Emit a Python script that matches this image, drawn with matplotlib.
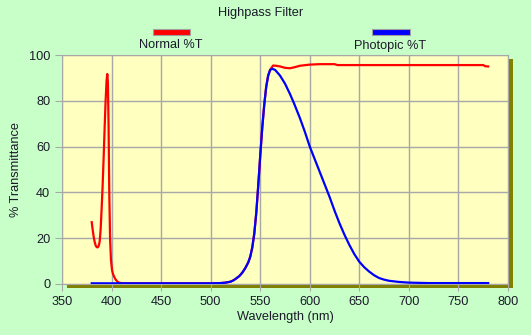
import matplotlib
matplotlib.use("Agg")
import matplotlib.pyplot as plt
from matplotlib.patches import Rectangle

plt.rcParams['font.family'] = ['Liberation Sans', 'DejaVu Sans']

# Normal %T (red)
normal_wl = [380, 381, 382, 383, 384, 385, 386, 387, 388, 389, 390, 391, 392, 393,
             394, 395, 395.7, 396.3, 397, 397.7, 398.5, 399.4, 400.5, 401.5, 402.6,
             404, 406, 408, 412, 450, 500, 510, 515, 520, 523, 526, 529, 532, 535,
             538, 540, 542, 544, 546, 548, 550, 552, 554, 556, 558, 560, 562, 563,
             566, 570, 575, 580, 585, 590, 600, 610, 625, 628, 700, 775, 777, 780]
normal_t = [27, 23.5, 20.5, 18.3, 16.8, 16.1, 16, 16.6, 18.5, 24, 33, 43, 55, 68,
            80, 89, 91.7, 88, 69, 40, 20, 10.5, 6, 4.3, 3.2,
            2, 1, 0.5, 0.3, 0.3, 0.3, 0.4, 0.6, 1, 1.6, 2.5, 3.5, 5, 7,
            9.5, 12, 16, 22, 31, 43, 56, 68, 78, 86, 91, 93.5, 94.8, 95.4,
            95.3, 95, 94.4, 94.2, 94.7, 95.3, 95.8, 96, 96, 95.6, 95.6, 95.6, 95.1, 95]

# Photopic %T (blue)
photopic_wl = [380, 450, 500, 510, 515, 520, 523, 526, 529, 532, 535, 538, 540,
               542, 544, 546, 548, 550, 552, 554, 556, 558, 560, 562, 565, 567,
               570, 575, 580, 584, 590, 595, 600, 605, 610, 615, 620, 625, 630,
               635, 640, 645, 650, 655, 660, 665, 670, 675, 680, 690, 700, 720,
               780]
photopic_t = [0.3, 0.3, 0.3, 0.4, 0.6, 1, 1.6, 2.5, 3.5, 5, 7, 9.5, 12,
              16, 22, 31, 43, 56, 68, 78, 86, 91, 93.5, 94, 93.5, 92.5,
              91, 87.5, 83, 79, 72.5, 66.5, 60, 54.5, 49, 43.5, 38, 32, 26.5,
              21.5, 17, 13, 9.7, 7.3, 5.4, 3.8, 2.6, 1.9, 1.4, 0.9, 0.6, 0.4,
              0.4]

x_ticks = [350, 400, 450, 500, 550, 600, 650, 700, 750, 800]
y_ticks = [0, 20, 40, 60, 80, 100]

W, H = 531, 335
fig = plt.figure(figsize=(W / 100, H / 100), dpi=100, facecolor='#c8ffc8')

left, right, top, bottom = 62, 508, 55, 284
ax = fig.add_axes([left / W, 1 - bottom / H, (right - left) / W, (bottom - top) / H])
ax.set_facecolor('#ffffc0')

# drop shadow behind the plot area
fig.patches.append(Rectangle(((left + 5) / W, 1 - (bottom + 4) / H),
                             (right - left) / W, (bottom - top) / H,
                             transform=fig.transFigure, facecolor='#808000',
                             edgecolor='none', zorder=-1))

ax.plot(normal_wl, normal_t, color='#ff0000', lw=1.6, zorder=3)
ax.plot(photopic_wl, photopic_t, color='#0000ff', lw=1.6, zorder=4)

ax.set_xlim(350, 800)
ax.set_ylim(0, 100)
ax.set_xticks(x_ticks)
ax.set_yticks(y_ticks)
ax.grid(True, color='#a8a8a8', lw=1)
ax.set_axisbelow(True)
for s in ax.spines.values():
    s.set_color('#a8a8a8')
fs = 9.2
ax.tick_params(colors='#a8a8a8', labelcolor='#1a1a2a', labelsize=fs, length=5)

ax.set_xlabel('Wavelength (nm)', fontsize=fs, color='#1a1a2a', labelpad=2)
ax.set_ylabel('% Transmittance', fontsize=fs, color='#1a1a2a', labelpad=5)

fig.text(261 / W, 1 - 13 / H, 'Highpass Filter', ha='center', va='center',
         fontsize=fs, color='#1a1a2a')

# legend swatches and labels
for x0, x1, cx, color, label in [(153, 190, 171, '#ff0000', 'Normal %T'),
                                 (372, 410, 390, '#0000ff', 'Photopic %T')]:
    fig.patches.append(Rectangle((x0 / W, 1 - 34.5 / H), (x1 - x0) / W, 6 / H,
                                 transform=fig.transFigure, facecolor=color,
                                 edgecolor='#a0a0a0', lw=0.8))
    fig.text(cx / W, 1 - 45.5 / H, label, ha='center', va='center',
             fontsize=fs, color='#1a1a2a')

fig.savefig('out.png', dpi=100, facecolor=fig.get_facecolor())
